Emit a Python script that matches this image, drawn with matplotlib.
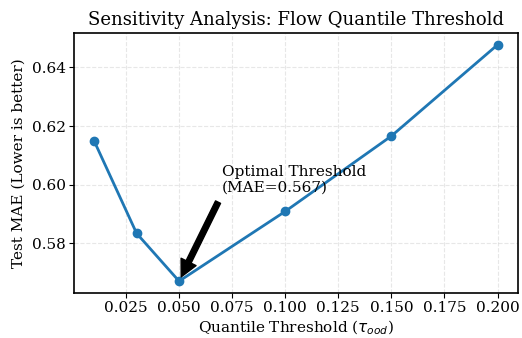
import matplotlib
matplotlib.use("Agg")
import matplotlib.pyplot as plt
from matplotlib.ticker import MultipleLocator

# quantile thresholds and test MAE
thresholds = [0.01, 0.03, 0.05, 0.10, 0.15, 0.20]
mae = [0.6149, 0.5834, 0.5671, 0.5909, 0.6166, 0.6477]
best_idx = 2

plt.rcParams['font.family'] = 'DejaVu Serif'

fig = plt.figure(figsize=(5.22, 3.38), dpi=100)
ax = fig.add_axes([74 / 522, 1 - 293 / 338, (517.7 - 74) / 522, (293 - 33) / 338])

ax.plot(thresholds, mae, marker='o', color='#1f77b4', linewidth=2, markersize=6)
ax.grid(True, linestyle='--', alpha=0.3)
ax.yaxis.set_major_locator(MultipleLocator(0.02))

ax.annotate(f'Optimal Threshold\n(MAE={mae[best_idx]:.3f})',
            xy=(thresholds[best_idx], mae[best_idx]),
            xytext=(0.07, 0.5975),
            arrowprops=dict(facecolor='black', shrink=0.05),
            fontsize=11)

ax.set_title('Sensitivity Analysis: Flow Quantile Threshold', fontsize=13)
ax.set_xlabel(r'Quantile Threshold ($\tau_{ood}$)', fontsize=11, labelpad=2)
ax.set_ylabel('Test MAE (Lower is better)', fontsize=11)
ax.tick_params(labelsize=11, pad=2.5)
for s in ax.spines.values():
    s.set_linewidth(1.2)

fig.savefig('out.png', dpi=100)
